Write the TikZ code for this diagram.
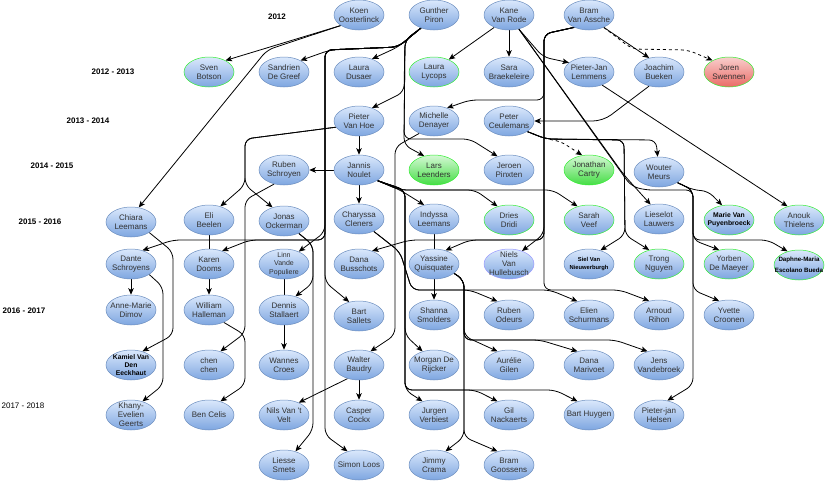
\documentclass[tikz,border=0pt]{standalone}
\usepackage{fontspec}
\setmainfont{Liberation Sans}
\usetikzlibrary{shapes.geometric,arrows.meta}
\pgfdeclarelayer{back}
\pgfdeclarelayer{bg}
\pgfsetlayers{back,bg,main}
\definecolor{pbord}{HTML}{6C8EBF}
\definecolor{ptop}{HTML}{DAE8FC}
\definecolor{pbot}{HTML}{7EA6E0}
\definecolor{gbord}{HTML}{33EE33}
\definecolor{gtop}{HTML}{D5F8D5}
\definecolor{gbot}{HTML}{44DD44}
\definecolor{rtop}{HTML}{F8CECC}
\definecolor{rbot}{HTML}{EA6B66}
\definecolor{nbord}{HTML}{9999FF}
\definecolor{ptxt}{HTML}{333333}
\tikzset{
 person/.style={ellipse, draw=pbord, top color=ptop, bottom color=pbot, minimum width=50pt, minimum height=30pt, inner sep=0pt, line width=0.5pt},
 gb/.style={draw=gbord},
 gf/.style={draw=gbord, top color=gtop, bottom color=gbot},
 rf/.style={draw=gbord, top color=rtop, bottom color=rbot},
 nb/.style={draw=nbord},
 ptext/.style={align=center, inner sep=0pt, font=\fontsize{8}{9}\selectfont, text=ptxt},
 btext/.style={font=\bfseries\fontsize{6.8}{8}\selectfont, text=black},
 stext/.style={font=\bfseries\fontsize{5.8}{7.5}\selectfont, text=black},
 dtext/.style={font=\bfseries\fontsize{6.2}{11}\selectfont, text=black},
 ltext/.style={font=\fontsize{7}{8.7}\selectfont},
 year/.style={font=\bfseries\fontsize{8}{9}\selectfont, inner sep=0pt},
 yearr/.style={font=\fontsize{8}{9}\selectfont, inner sep=0pt},
 conn/.style={draw=black, line width=0.8pt, rounded corners=7pt, -{Stealth[length=6.5pt,width=5.5pt,inset=1.5pt]}},
 dconn/.style={conn, dash pattern=on 3pt off 3pt},
 cline/.style={draw=black, line width=0.8pt},
}
\newcommand\pn[5]{\node[person,#1] (#2) at (#3) {}; \node[ptext,#4] (#2t) at (#2.center) {#5};}
\begin{document}
\begin{tikzpicture}[x=1pt,y=-1pt]
\begin{pgfonlayer}{back}
\fill[white] (0,0) rectangle (825,482);
\end{pgfonlayer}
\useasboundingbox (0,0) rectangle (825,482);
% year labels
\node[year] (y1) at (277,17) {2012};
\node[year] (y2) at (113,72) {2012 - 2013};
\node[year] (y3) at (88,121) {2013 - 2014};
\node[year] (y4) at (52,166) {2014 - 2015};
\node[year] (y5) at (40,222) {2015 - 2016};
\node[year] (y6) at (24,311) {2016 - 2017};
\node[yearr] (y7) at (23,406) {2017 - 2018};
% row 1
\pn{}{koen}{359,15}{}{Koen\\Oosterlinck}
\pn{}{gunther}{434,15}{}{Gunther\\Piron}
\pn{}{kane}{509,15}{}{Kane\\Van Rode}
\pn{}{bram}{589,15}{}{Bram\\Van Assche}
% row 2
\pn{gb}{sven}{209,72}{}{Sven\\Botson}
\pn{}{sandrien}{284,72}{}{Sandrien\\De Greef}
\pn{}{dusaer}{359,72}{}{Laura\\Dusaer}
\pn{gb}{lycops}{434,72}{}{Laura\\Lycops}
\pn{}{sara}{509,72}{}{Sara\\Braekeleire}
\pn{}{pjl}{589,72}{}{Pieter-Jan\\Lemmens}
\pn{}{joachim}{659,72}{}{Joachim\\Bueken}
\pn{rf}{joren}{729,72}{}{Joren\\Swennen}
% row 3
\pn{}{pieter}{359,121}{}{Pieter\\Van Hoe}
\pn{}{michelle}{434,121}{}{Michelle\\Denayer}
\pn{}{peter}{509,121}{}{Peter\\Ceulemans}
% row 4
\pn{}{ruben}{284,170}{}{Ruben\\Schroyen}
\pn{}{jannis}{359,170}{}{Jannis\\Noulet}
\pn{gf}{lars}{434,170}{}{Lars\\Leenders}
\pn{}{jeroen}{509,170}{}{Jeroen\\Pinxten}
\pn{gf}{jonathan}{589,170}{}{Jonathan\\Cartry}
\pn{}{wouter}{659,172}{}{Wouter\\Meurs}
% row 5
\pn{}{chiara}{131,222}{}{Chiara\\Leemans}
\pn{}{eli}{209,220}{}{Eli\\Beelen}
\pn{}{jonas}{284,221}{}{Jonas\\Ockerman}
\pn{}{charyssa}{359,219}{}{Charyssa\\Cleners}
\pn{}{indyssa}{434,219}{}{Indyssa\\Leemans}
\pn{gb}{dries}{509,220}{}{Dries\\Dridi}
\pn{gb}{sarah}{589,220}{}{Sarah\\Veef}
\pn{}{lieselot}{659,219}{}{Lieselot\\Lauwers}
\pn{gb}{marie}{729,220}{btext}{Marie Van\\Puyenbroeck}
\pn{gb}{anouk}{799,220}{}{Anouk\\Thielens}
% row 6
\pn{}{dante}{131,264}{}{Dante\\Schroyens}
\pn{}{karen}{209,264}{}{Karen\\Dooms}
\pn{}{linn}{284,264}{ltext}{Linn\\Vande\\Populiere}
\pn{}{dana}{359,264}{}{Dana\\Busschots}
\pn{}{yassine}{434,264}{}{Yassine\\Quisquater}
\pn{nb}{niels}{509,264}{}{Niels\\Van\\Hullebusch}
\pn{}{siel}{589,264}{stext}{Siel Van\\Nieuwerburgh}
\pn{gb}{trong}{659,264}{}{Trong\\Nguyen}
\pn{gb}{yorben}{729,264}{}{Yorben\\De Maeyer}
\pn{gb}{daphne}{799,265}{dtext}{Daphne-Maria\\Escolano Bueda}
% row 7
\pn{}{annemarie}{131,310}{}{Anne-Marie\\Dimov}
\pn{}{william}{209,310}{}{William\\Halleman}
\pn{}{dennis}{284,310}{}{Dennis\\Stallaert}
\pn{}{bart}{359,316}{}{Bart\\Sallets}
\pn{}{shanna}{434,315}{}{Shanna\\Smolders}
\pn{}{rubeno}{509,315}{}{Ruben\\Odeurs}
\pn{}{elien}{589,315}{}{Elien\\Schurmans}
\pn{}{arnoud}{659,315}{}{Arnoud\\Rihon}
\pn{}{yvette}{729,315}{}{Yvette\\Croonen}
% row 8
\pn{}{kamiel}{131,365}{btext}{Kamiel Van\\Den\\Eeckhaut}
\pn{}{chen}{209,365}{}{chen\\chen}
\pn{}{wannes}{284,365}{}{Wannes\\Croes}
\pn{}{walter}{359,365}{}{Walter\\Baudry}
\pn{}{morgan}{434,365}{}{Morgan De\\Rijcker}
\pn{}{aurelie}{509,365}{}{Aurélie\\Gilen}
\pn{}{danam}{589,365}{}{Dana\\Marivoet}
\pn{}{jens}{659,365}{}{Jens\\Vandebroek}
% row 9
\pn{}{khany}{131,415}{}{Khany-\\Evelien\\Geerts}
\pn{}{ben}{209,415}{}{Ben Celis}
\pn{}{nils}{284,415}{}{Nils Van \textquotesingle t\\Velt}
\pn{}{casper}{359,415}{}{Casper\\Cockx}
\pn{}{jurgen}{434,415}{}{Jurgen\\Verbiest}
\pn{}{gil}{509,415}{}{Gil\\Nackaerts}
\pn{}{barth}{589,415}{}{Bart Huygen}
\pn{}{helsen}{659,415}{}{Pieter-jan\\Helsen}
% row 10
\pn{}{liesse}{284,465}{}{Liesse\\Smets}
\pn{}{simon}{359,465}{}{Simon Loos}
\pn{}{jimmy}{434,465}{}{Jimmy\\Crama}
\pn{}{bramg}{509,465}{}{Bram\\Goossens}
% edges
\begin{pgfonlayer}{bg}
% Koen
\draw[conn] (koen.210) -- (sven.35);
\draw[conn] (koen.210) -- (267,50) -- (chiara.62);
% Gunther
\draw[conn] (gunther.225) -- (398,47) -- (330,50) -- (sandrien.35);
\draw[conn] (gunther.225) -- (398,47) -- (dusaer.45);
\draw[conn] (gunther.225) -- (398,47) -- (325,50) -- (325,240) -- (173,240) -- (dante.50);
\draw[conn] (gunther.225) -- (398,47) -- (325,50) -- (325,240) -- (250,240) -- (karen.45);
\draw[conn] (gunther.225) -- (398,47) -- (325,50) -- (325,232) -- (linn.40);
\draw[conn] (gunther.225) -- (398,47) -- (325,50) -- (325,282) -- (bart.125);
\draw[conn] (gunther.225) -- (398,47) -- (325,50) -- (325,435) -- (simon.130);
\draw[conn] (gunther.225) -- (405,40) -- (404,92) -- (pieter.45);
\draw[conn] (gunther.225) -- (405,40) -- (404,145) -- (lars.125);
\draw[conn] (gunther.225) -- (405,40) -- (404,139) -- (470,139) -- (jeroen.130);
% Kane
\draw[conn] (kane.220) -- (lycops.40);
\draw[conn] (kane.south) -- (sara.north);
\draw[conn] (kane.305) -- (543,57) -- (pjl.155);
\draw[conn] (kane.305) -- (624,175) -- (lieselot.120);
\draw[conn] (kane.305) -- (631,186) -- (645,190) -- (693,190) -- (693,385) -- (helsen.60);
% Bram
\draw[conn] (bram.320) -- (joachim.125);
\draw[dconn] (bram.320) -- (632,49) -- (688,50) -- (joren.145);
\draw[conn] (bram.220) -- (544,34) -- (544,100) -- (470,100) -- (michelle.45);
\draw[conn] (bram.220) -- (544,34) -- (544,240) -- (410,240) -- (dana.45);
\draw[conn] (bram.220) -- (544,34) -- (544,240) -- (470,240) -- (yassine.50);
\draw[conn] (bram.220) -- (544,34) -- (544,234) -- (niels.45);
\draw[conn] (bram.220) -- (544,34) -- (544,290) -- (620,290) -- (arnoud.125);
% Joachim
\draw[conn, rounded corners=10pt] (joachim.235) -- (603,121) -- (peter.east);
% Peter
\draw[dconn] (peter.330) -- (546,139) -- (560,141) -- (jonathan.115);
\draw[conn] (peter.330) -- (546,139) -- (656,140) -- (wouter.95);
\draw[conn] (peter.330) -- (546,139) -- (624,140) -- (625,235) -- (siel.50);
\draw[conn] (peter.330) -- (546,139) -- (624,140) -- (625,235) -- (trong.125);
% Wouter
\draw[conn] (wouter.330) -- (693,190) -- (708,191) -- (marie.115);
\draw[conn] (wouter.330) -- (693,190) -- (693,240) -- (yorben.125);
\draw[conn] (wouter.330) -- (693,190) -- (693,240) -- (768,240) -- (daphne.130);
\draw[conn] (wouter.330) -- (693,190) -- (693,290) -- (yvette.125);
% Pieter-Jan
\draw[conn] (pjl.315) -- (anouk.130);
% Pieter
\draw[conn] (pieter.south) -- (jannis.north);
\draw[conn] (pieter.195) -- (245,139) -- (245,185) -- (eli.50);
\draw[conn] (pieter.195) -- (245,139) -- (245,185) -- (jonas.130);
% Ruben
\draw[conn] (ruben.235) -- (245,200) -- (245,333) -- (chen.50);
% Jannis
\draw[conn] (jannis.west) -- (ruben.east);
\draw[conn] (jannis.south) -- (charyssa.north);
\draw[conn] (jannis.330) -- (400,190) -- (indyssa.125);
\draw[conn] (jannis.330) -- (400,190) -- (475,190) -- (dries.130);
\draw[conn] (jannis.330) -- (400,190) -- (553,190) -- (sarah.130);
\draw[conn] (jannis.330) -- (405,190) -- (405,335) -- (morgan.130);
\draw[conn] (jannis.330) -- (405,190) -- (405,390) -- (jurgen.130);
\draw[conn] (jannis.330) -- (405,190) -- (405,390) -- (475,390) -- (gil.130);
\draw[conn] (jannis.330) -- (405,190) -- (405,390) -- (555,390) -- (barth.130);
% Michelle
\draw[conn] (michelle.220) -- (395,147) -- (395,335) -- (walter.50);
% Charyssa
\draw[conn] (charyssa.320) -- (400,252) -- (412,290) -- (470,290) -- (rubeno.130);
\draw[conn] (charyssa.320) -- (400,252) -- (412,290) -- (550,290) -- (elien.130);
% Indyssa / Yassine
\draw[cline] (indyssa.south) -- (yassine.north);
\draw[conn] (yassine.south) -- (shanna.north);
\draw[conn] (yassine.335) -- (464,280) -- (464,336) -- (aurelie.130);
\draw[conn] (yassine.335) -- (464,280) -- (464,340) -- (540,340) -- (danam.130);
\draw[conn] (yassine.335) -- (464,280) -- (464,340) -- (615,340) -- (jens.130);
\draw[conn] (yassine.335) -- (464,280) -- (464,437) -- (jimmy.50);
\draw[conn] (yassine.335) -- (464,280) -- (464,437) -- (bramg.130);
% Dante / Chiara
\draw[conn] (dante.south) -- (annemarie.north);
\draw[conn] (dante.330) -- (163,287) -- (163,385) -- (khany.50);
\draw[conn] (chiara.330) -- (173,252) -- (173,335) -- (kamiel.50);
% Eli / Karen / William
\draw[cline] (eli.south) -- (karen.north);
\draw[conn] (karen.south) -- (william.north);
\draw[conn] (william.320) -- (245,335) -- (245,385) -- (ben.50);
% Jonas
\draw[conn] (jonas.320) -- (313,245) -- (313,283) -- (dennis.50);
\draw[conn] (jonas.320) -- (313,245) -- (313,430) -- (liesse.50);
% Linn / Dennis
\draw[cline] (linn.south) -- (dennis.north);
\draw[conn] (dennis.south) -- (wannes.north);
% Walter
\draw[conn] (walter.230) -- (nils.40);
\draw[conn] (walter.south) -- (casper.north);
\end{pgfonlayer}
\end{tikzpicture}
\end{document}
